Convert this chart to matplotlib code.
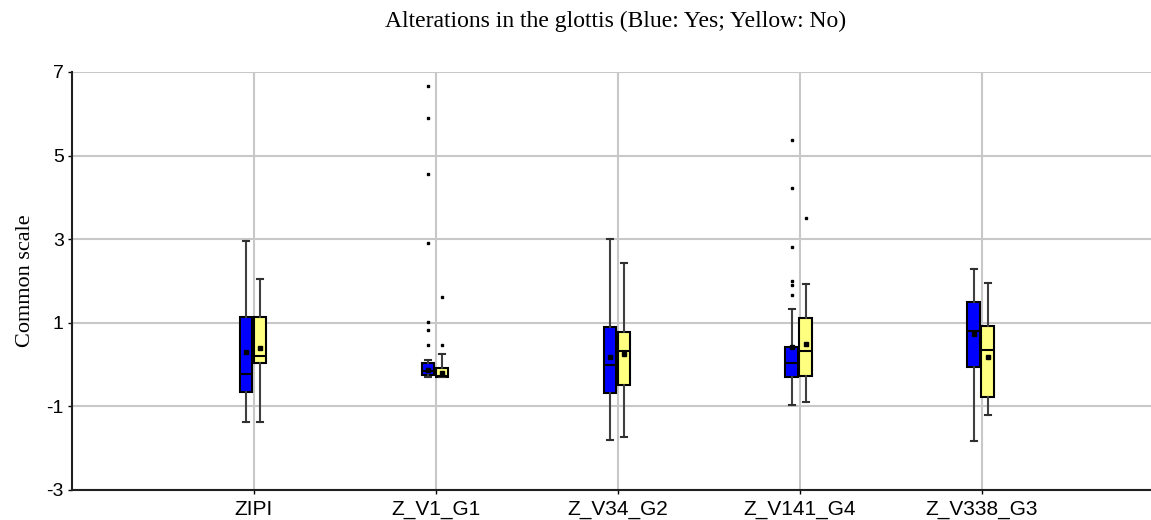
import numpy as np
import matplotlib
matplotlib.use("Agg")
import matplotlib.pyplot as plt

# categories and box statistics (blue = Yes, yellow = No)
categories = ["ZIPI", "Z_V1_G1", "Z_V34_G2", "Z_V141_G4", "Z_V338_G3"]

yes_low = [-1.37, -0.29, -1.80, -0.97, -1.84]
yes_q1 = [-0.65, -0.25, -0.69, -0.29, -0.06]
yes_med = [-0.22, -0.15, -0.01, 0.03, 0.81]
yes_q3 = [1.13, 0.03, 0.89, 0.43, 1.50]
yes_high = [2.96, 0.10, 3.00, 1.32, 2.28]
yes_mean = [0.29, -0.12, 0.17, 0.41, 0.72]
yes_out = [[], [6.67, 5.89, 4.56, 2.90, 1.03, 0.83, 0.47], [],
           [5.37, 4.22, 2.81, 1.99, 1.90, 1.67], []]

no_low = [-1.37, -0.30, -1.74, -0.89, -1.21]
no_q1 = [0.03, -0.30, -0.49, -0.27, -0.77]
no_med = [0.21, -0.28, 0.32, 0.33, 0.34]
no_q3 = [1.13, -0.09, 0.79, 1.12, 0.93]
no_high = [2.04, 0.25, 2.42, 1.92, 1.94]
no_mean = [0.39, -0.20, 0.26, 0.49, 0.19]
no_out = [[], [1.62, 0.47], [], [3.50], []]

yticks = [-3, -1, 1, 3, 5, 7]


def make_stats(low, q1, med, q3, high, mean, out):
    stats = []
    for i in range(len(low)):
        stats.append(dict(whislo=low[i], q1=q1[i], med=med[i], q3=q3[i],
                          whishi=high[i], mean=mean[i], fliers=out[i]))
    return stats


fig = plt.figure(figsize=(11.51, 5.2), dpi=100)
ax = fig.add_axes([0.0626, 0.0577, 0.9374, 0.804])

pos = np.arange(1, len(categories) + 1)
width = 0.068

for stats, offset, color in [
    (make_stats(yes_low, yes_q1, yes_med, yes_q3, yes_high, yes_mean, yes_out), -0.045, "#0000ff"),
    (make_stats(no_low, no_q1, no_med, no_q3, no_high, no_mean, no_out), 0.032, "#ffff80"),
]:
    ax.bxp(stats, positions=pos + offset, widths=width, patch_artist=True,
           showmeans=True, showcaps=True, manage_ticks=False,
           boxprops=dict(facecolor=color, edgecolor="black", linewidth=1.5),
           medianprops=dict(color="black", linewidth=1.5),
           whiskerprops=dict(color="#404040", linewidth=1.5),
           capprops=dict(color="#303030", linewidth=1.5),
           meanprops=dict(marker="s", markersize=2.5, markerfacecolor="black",
                          markeredgecolor="black"),
           flierprops=dict(marker="s", markersize=2.0, markerfacecolor="black",
                           markeredgecolor="black", linestyle="none"),
           zorder=3)

ax.set_xlim(0, 5.93)
ax.set_ylim(-3, 7)
ax.set_xticks(pos)
ax.set_xticklabels(categories, fontsize=15, family="Liberation Sans")
ax.set_yticks(yticks)
ax.set_yticklabels([str(t) for t in yticks], fontsize=14, family="Liberation Sans")
ax.tick_params(axis="both", length=3, width=1, color="black", pad=3)
ax.tick_params(axis="x", pad=4)

ax.grid(True, color="#c8c8c8", linewidth=1.5, zorder=0)
ax.set_axisbelow(True)
for side in ["top", "right"]:
    ax.spines[side].set_visible(False)
for side in ["left", "bottom"]:
    ax.spines[side].set_linewidth(1.5)
    ax.spines[side].set_color("#202020")

ax.set_ylabel("Common scale", fontsize=16, family="Liberation Serif", labelpad=8)
fig.text(0.535, 0.958, "Alterations in the glottis (Blue: Yes; Yellow: No)",
         ha="center", va="center", fontsize=17, family="Liberation Serif")

fig.savefig("out.png", dpi=100)
